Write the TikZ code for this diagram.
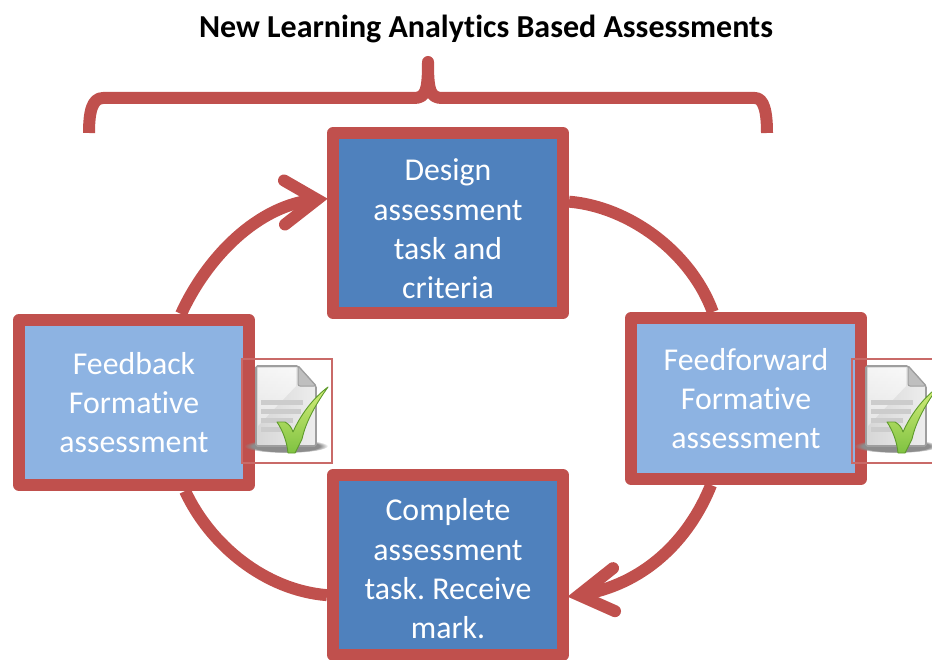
\documentclass[tikz,border=0pt]{standalone}
\usepackage{fontspec}
\setmainfont[Ligatures=NoCommon]{Carlito}
\usetikzlibrary{calc,fadings}
\definecolor{rd}{HTML}{C0504D}
\definecolor{dk}{HTML}{4F81BD}
\definecolor{lt}{HTML}{8DB3E2}
\definecolor{ckhi}{HTML}{D4EE7A}
\definecolor{cklo}{HTML}{7FC241}
\definecolor{ckln}{HTML}{5E9A2B}
\frenchspacing
\tikzset{
 box/.style={draw=rd,line width=12pt,line join=round,inner sep=0pt,minimum width=230pt,
   align=center,text=white,font=\fontsize{31.8}{39.4}\selectfont},
 dkbox/.style={box,fill=dk,minimum height=180pt},
 ltbox/.style={box,fill=lt},
 conn/.style={draw=rd,line width=12pt},
 barb/.style={draw=rd,line width=12pt,line cap=round,line join=miter,miter limit=10},
 iconframe/.style={draw=rd!85!white,line width=1.2pt},
 docicon/.pic={
   \fill[black!45,path fading=circle with fuzzy edge 20 percent] (30,80) ellipse (42 and 7);
   \path[left color=black!16,right color=black!7,draw=black!38,line width=1.6pt,rounded corners=1.5pt]
     (0,0) -- (42,0) -- (60,20) -- (60,80) -- (0,80) -- cycle;
   \path[top color=white,bottom color=black!8,opacity=.75] (2,2) -- (40,2) -- (40,20) -- (2,60) -- cycle;
   \path[fill=black!25,draw=black!38,line width=1pt,rounded corners=2pt] (42,0) -- (60,20) -- (42,20) -- cycle;
   \fill[black!20] (5,34) rectangle (47,39);
   \fill[black!20] (5,43) rectangle (45,48);
   \fill[black!20] (5,52) rectangle (37,57);
   \fill[black!20] (5,61) rectangle (25,66);
   \path[top color=ckhi,bottom color=cklo,draw=ckln,line width=.9pt,line join=round]
     (21,56) -- (29,56) .. controls (33,58) and (36,62) .. (37,66)
     .. controls (44,50) and (56,33) .. (72,21)
     .. controls (60,38) and (50,55) .. (46,73) -- (39,87) -- (32,87)
     .. controls (31,76) and (27,65) .. cycle;
 }
}
\begin{document}
\begin{tikzpicture}[x=1pt,y=-1pt]
\useasboundingbox (0,0) rectangle (932,660);
\clip (0,0) rectangle (932,660);
% title
\node[font=\fontsize{32}{36}\bfseries\selectfont,text=black,inner sep=0pt] (title) at (486,28.5) {New Learning Analytics Based Assessments};
% brace
\coordinate (braceL) at (89,133);
\coordinate (braceR) at (767,133);
\coordinate (braceTip) at (428,62);
\draw[rd,line width=12pt,line join=round] (braceL) .. controls (89,112) and (92,98) .. (103,98) -- (414,98)
  .. controls (426,98) and (428,90) .. (braceTip) .. controls (428,90) and (430,98) .. (442,98) -- (755,98)
  .. controls (764,98) and (767,112) .. (braceR);
% boxes
\node[dkbox] (top) at (448,223) {\rule{0pt}{34pt}Design\\assessment\\task and\\criteria};
\node[dkbox] (bot) at (448,565) {\rule{0pt}{30pt}Complete\\assessment\\task. Receive\\mark.};
\node[ltbox,minimum height=165pt] (fb) at (134,402.5) {Feedback\\Formative\\assessment};
\node[ltbox,minimum height=161pt] (ff) at (746,398.5) {Feedforward\\Formative\\assessment};
% connectors
\path (top.169) ++(-10,0) coordinate (tipA) (bot.-14) ++(10,0) coordinate (tipB);
\draw[conn] (top.10.8) .. controls +(60,5) and +(-22,-60) .. (ff.111.5);
\draw[conn] (ff.248.5) .. controls +(-22,55) and +(65,-10) .. (tipB);
\draw[conn] (fb.-60) .. controls +(25,54) and +(-62,-5) .. (bot.194);
\draw[conn] (fb.62.5) .. controls +(25,-55) and +(-60,5) .. (tipA);
\draw[barb] (tipA) ++(-33,-19) coordinate (a1) (tipA) ++(-32,25) coordinate (a2) (a1) -- (tipA) -- (a2);
\draw[barb] (tipB) ++(34,-27) coordinate (b1) (tipB) ++(36,16) coordinate (b2) (b1) -- (tipB) -- (b2);
% icon frames, lying over the boxes
\node[iconframe,minimum width=90pt,minimum height=104pt,inner sep=0pt] (frameL) at (287,411) {};
\node[iconframe,minimum width=100pt,minimum height=104pt,inner sep=0pt] (frameR) at (902,411) {};
% document icons
\pic at (256,366) {docicon};
\pic at (866,366) {docicon};
\end{tikzpicture}
\end{document}
